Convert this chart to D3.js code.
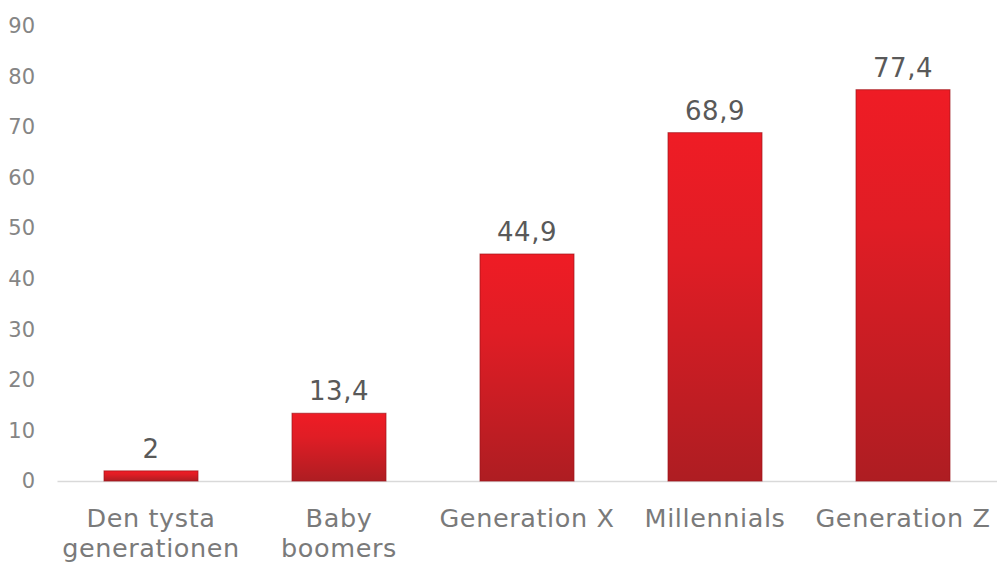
<!DOCTYPE html>
<html>
<head>
<meta charset="utf-8">
<script src="https://cdn.jsdelivr.net/npm/d3@7"></script>
<style>
  body { margin: 0; background: #fff; }
  svg { display: block; font-family: "DejaVu Sans", Verdana, sans-serif; }
</style>
</head>
<body>
<div id="chart-area"></div>
<script>
// generations and their values
const categories = ["Den tysta generationen", "Baby boomers", "Generation X", "Millennials", "Generation Z"];
const values = [2, 13.4, 44.9, 68.9, 77.4];
const yTicks = [0, 10, 20, 30, 40, 50, 60, 70, 80, 90];

const width = 997;
const height = 562;
const margin = {left: 57, top: 26, right: 0, bottom: 81};
const fontFamily = '"DejaVu Sans", Verdana, sans-serif';

const svg = d3.select("#chart-area")
    .append("svg")
    .attr("width", width)
    .attr("height", height);

// red bar gradient, brighter on top
const grad = svg.append("defs").append("linearGradient")
    .attr("id", "barFill")
    .attr("x1", 0).attr("y1", 0)
    .attr("x2", 0).attr("y2", 1);
grad.append("stop").attr("offset", "0%").attr("stop-color", "#ef1c25");
grad.append("stop").attr("offset", "35%").attr("stop-color", "#e01d25");
grad.append("stop").attr("offset", "100%").attr("stop-color", "#ae1d22");

const xScale = d3.scaleBand()
    .domain(categories)
    .range([margin.left, width - margin.right])
    .paddingInner(0.5)
    .paddingOuter(0.25);

const yScale = d3.scaleLinear()
    .domain([0, 90])
    .range([height - margin.bottom, margin.top]);

const fmt = v => String(v).replace(".", ",");

// y axis, labels only
const yAxis = svg.append("g")
    .attr("transform", `translate(${margin.left},0)`)
    .call(d3.axisLeft(yScale).tickValues(yTicks).tickSize(0).tickPadding(22))
    .attr("font-family", fontFamily);
yAxis.select(".domain").remove();
yAxis.selectAll("text")
    .attr("fill", "#858585")
    .style("font-size", "21px");

// x axis with light baseline
const xAxis = svg.append("g")
    .attr("transform", `translate(0,${yScale(0)})`)
    .call(d3.axisBottom(xScale).tickSize(0).tickSizeOuter(0).tickPadding(0))
    .attr("font-family", fontFamily);
xAxis.select(".domain").attr("stroke", "#d9d9d9").attr("stroke-width", 1.5);
xAxis.selectAll(".tick text").remove();

// category labels, wrapped to the band step
const labelSize = 25.5;
const measure = svg.append("text")
    .style("font-size", labelSize + "px")
    .style("letter-spacing", "0.6px")
    .attr("opacity", 0);
function wrapLines(label, maxW) {
  const words = label.split(" ");
  const lines = [];
  let cur = [];
  words.forEach(w => {
    const test = cur.concat(w).join(" ");
    measure.text(test);
    if (cur.length && measure.node().getComputedTextLength() > maxW) {
      lines.push(cur.join(" "));
      cur = [w];
    } else {
      cur.push(w);
    }
  });
  lines.push(cur.join(" "));
  return lines;
}

xAxis.selectAll(".tick").each(function(d) {
  const t = d3.select(this).append("text")
      .attr("fill", "#7a7a7a")
      .attr("text-anchor", "middle")
      .style("font-size", labelSize + "px")
      .style("letter-spacing", "0.6px");
  wrapLines(d, 182).forEach((line, i) => {
    t.append("tspan")
        .attr("x", 0)
        .attr("y", 46 + i * 30)
        .text(line);
  });
});
measure.remove();

// bars
const data = categories.map((c, i) => ({cat: c, value: values[i]}));

svg.append("g").selectAll("rect")
    .data(data)
    .enter()
    .append("rect")
    .attr("x", d => xScale(d.cat))
    .attr("width", xScale.bandwidth())
    .attr("y", d => yScale(d.value))
    .attr("height", d => yScale(0) - yScale(d.value))
    .attr("fill", "url(#barFill)")
    .attr("stroke", "#9e151b")
    .attr("stroke-width", 1)
    .attr("stroke-opacity", 0.7);

// value labels
svg.append("g").selectAll("text")
    .data(data)
    .enter()
    .append("text")
    .attr("x", d => xScale(d.cat) + xScale.bandwidth() / 2)
    .attr("y", d => yScale(d.value) - 13)
    .attr("text-anchor", "middle")
    .attr("fill", "#595959")
    .style("font-size", "26px")
    .style("letter-spacing", "0.5px")
    .text(d => fmt(d.value));
</script>
</body>
</html>
